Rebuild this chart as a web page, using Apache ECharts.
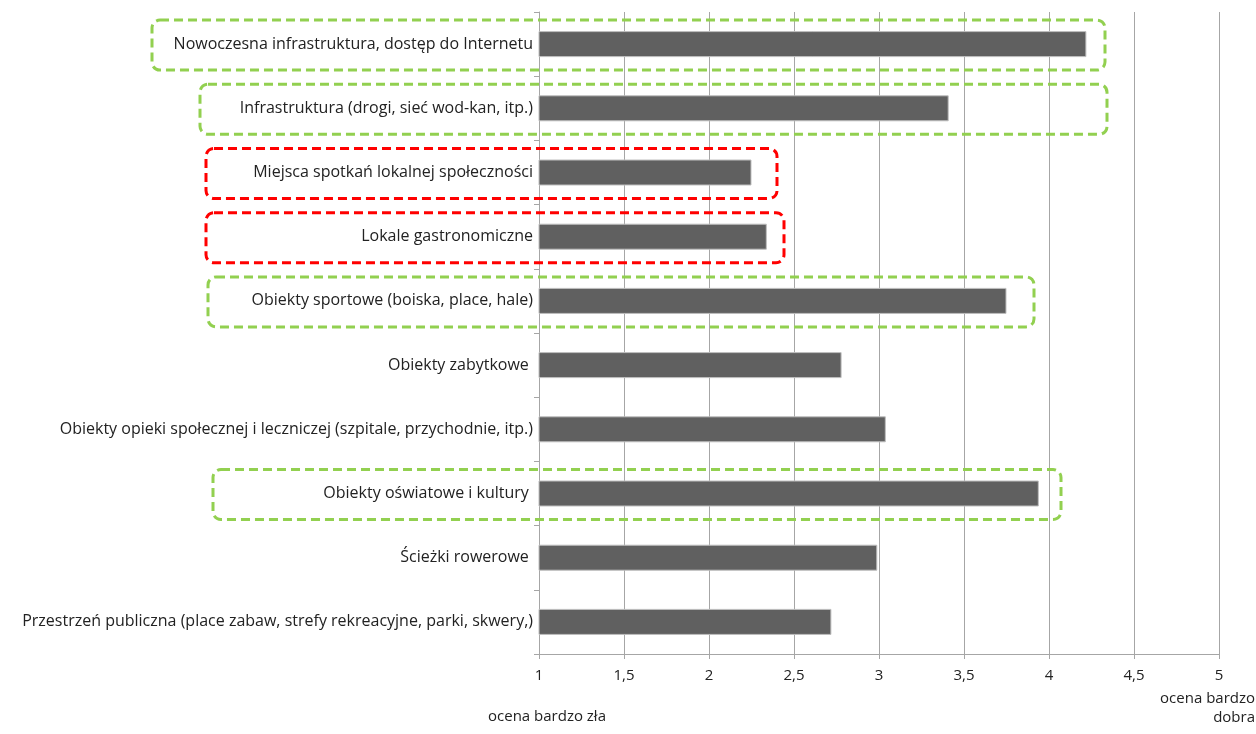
<!DOCTYPE html>
<html>
<head>
<meta charset="utf-8">
<script src="https://cdn.jsdelivr.net/npm/echarts@6/dist/echarts.min.js"></script>
<style>
  html, body { margin: 0; padding: 0; background: #fff; }
  #chart { width: 1256px; height: 734px; }
</style>
</head>
<body>
<div id="chart"></div>
<script>
// kategorie (od góry)
var categories = [
  "Nowoczesna infrastruktura, dostęp do Internetu",
  "Infrastruktura (drogi, sieć wod-kan, itp.)",
  "Miejsca spotkań lokalnej społeczności",
  "Lokale gastronomiczne",
  "Obiekty sportowe (boiska, place, hale)",
  "Obiekty zabytkowe ",
  "Obiekty opieki społecznej i leczniczej (szpitale, przychodnie, itp.)",
  "Obiekty oświatowe i kultury ",
  "Ścieżki rowerowe ",
  "Przestrzeń publiczna (place zabaw, strefy rekreacyjne, parki, skwery,)"
];
// średnia ocena
var values = [4.22, 3.41, 2.25, 2.34, 3.75, 2.78, 3.04, 3.94, 2.99, 2.72];

// ramki wokół wybranych pozycji: indeks kategorii, kolor
var boxRows = [0, 1, 2, 3, 4, 7];
var boxColors = ["#92d050", "#92d050", "#ff0000", "#ff0000", "#92d050", "#92d050"];

var chart = echarts.init(document.getElementById("chart"));
var font = "Open Sans";
var fs = 15;

var option = {
  animation: false,
  grid: { left: 539, right: 37, top: 12, bottom: 80 },
  xAxis: {
    type: "value",
    min: 1,
    max: 5,
    interval: 0.5,
    axisLine: { show: true, lineStyle: { color: "#a6a6a6" } },
    axisTick: { show: true, length: 5, lineStyle: { color: "#a6a6a6" } },
    splitLine: { show: true, lineStyle: { color: "#a6a6a6" } },
    axisLabel: {
      margin: 14,
      color: "#222",
      fontFamily: font,
      fontSize: fs,
      formatter: function (v) { return String(v).replace(".", ","); }
    }
  },
  yAxis: {
    type: "category",
    inverse: true,
    data: categories,
    axisLine: { show: true, lineStyle: { color: "#a6a6a6" } },
    axisTick: { show: true, length: 5, lineStyle: { color: "#a6a6a6" } },
    axisLabel: { margin: 6, color: "#222", fontFamily: font, fontSize: 16 }
  },
  series: [{
    type: "bar",
    data: values,
    barWidth: 26,
    itemStyle: { color: "#606060", borderColor: "#bfbfbf", borderWidth: 1 }
  }],
  graphic: []
};
chart.setOption(option);

// ramki: lewa krawędź od lewego końca opisu, prawa za końcem słupka
var boxLeft = [152, 200, 206, 206, 208, 213];
var boxRight = [1105, 1107, 777, 784, 1034, 1061];
var graphics = [];
boxRows.forEach(function (row, i) {
  var cy = chart.convertToPixel({ yAxisIndex: 0 }, categories[row]);
  graphics.push({
    type: "rect",
    shape: { x: boxLeft[i], y: cy - 24, width: boxRight[i] - boxLeft[i], height: 50, r: 8 },
    style: { fill: null, stroke: boxColors[i], lineWidth: 3, lineDash: [9, 5] },
    z: 100
  });
});
graphics.push({
  type: "text", x: 547, y: 717,
  style: { text: "ocena bardzo zła", fill: "#222", font: fs + "px " + font, align: "center", verticalAlign: "middle" }
});
graphics.push({
  type: "text", x: 1255, y: 708,
  style: { text: "ocena bardzo\ndobra", fill: "#222", font: fs + "px " + font, align: "right", verticalAlign: "middle", lineHeight: 19 }
});
chart.setOption({ graphic: graphics });
</script>
</body>
</html>
